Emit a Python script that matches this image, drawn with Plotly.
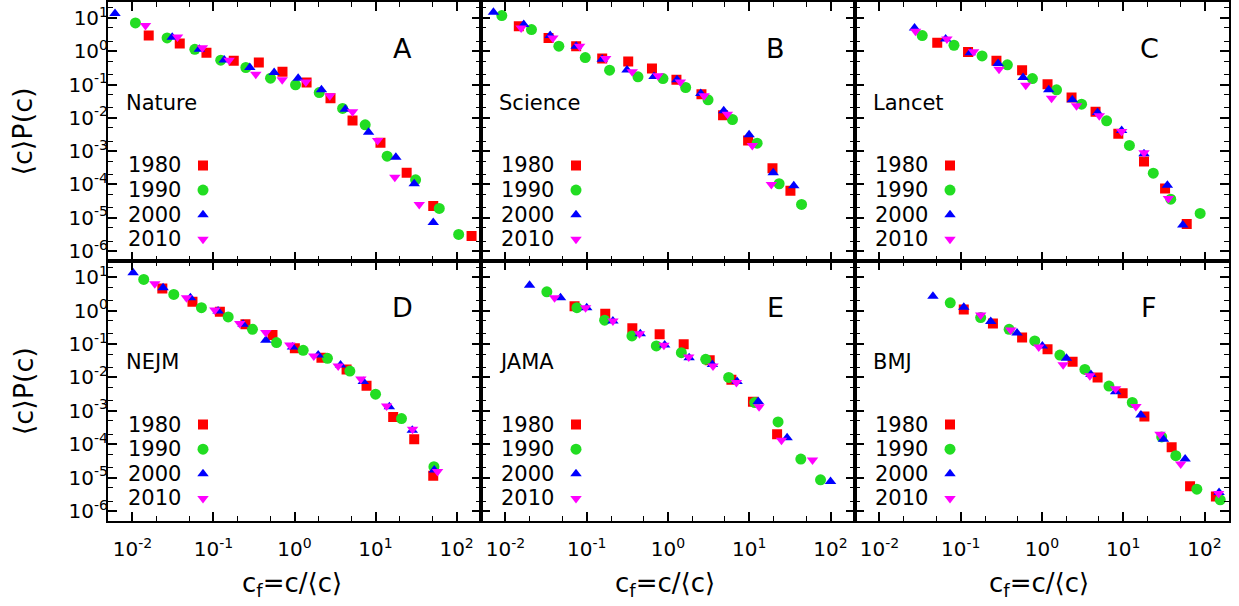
import plotly.graph_objects as go

W, H = 1239, 606
FONT = "DejaVu Sans, Verdana, sans-serif"

YEARS = ["1980", "1990", "2000", "2010"]
JOURNALS = ["Nature", "Science", "Lancet", "NEJM", "JAMA", "BMJ"]
LETTERS = ["A", "B", "C", "D", "E", "F"]

# ---------------- data: c_f and <c>P(c) per journal and year ----------------
NATURE_1980_CF = [0.0159, 0.0384, 0.082, 0.178, 0.363, 0.711, 1.41, 2.78, 5.2, 11.5, 24.2, 51.5, 153]
NATURE_1980_P = [2.95, 1.70, 0.902, 0.513, 0.457, 0.24, 0.115, 0.0389, 0.00832, 0.00178, 2.24e-4, 2.24e-5, 2.82e-6]
NATURE_1990_CF = [0.0109, 0.0268, 0.0589, 0.123, 0.251, 0.506, 1.03, 2.02, 3.92, 7.45, 13.9, 31.2, 61.1, 106]
NATURE_1990_P = [7.08, 2.51, 1.135, 0.537, 0.324, 0.155, 0.0977, 0.0575, 0.0191, 0.00617, 7.08e-4, 1.38e-4, 1.91e-5, 3.16e-6]
NATURE_2000_CF = [0.0061, 0.031, 0.067, 0.136, 0.281, 0.561, 1.11, 2.15, 4.23, 8.20, 17.8, 30.0, 51.5]
NATURE_2000_P = [13.5, 2.63, 1.135, 0.545, 0.324, 0.229, 0.155, 0.0692, 0.0182, 0.00372, 6.61e-4, 1.05e-4, 7.24e-6]
NATURE_2010_CF = [0.0145, 0.036, 0.0731, 0.156, 0.333, 0.705, 1.38, 2.73, 5.2, 10.6, 17.3, 34.6]
NATURE_2010_P = [5.89, 2.69, 1.26, 0.537, 0.204, 0.138, 0.120, 0.0457, 0.0151, 0.00209, 1.66e-4, 2.51e-5]

SCIENCE_1980_CF = [0.0146, 0.0339, 0.0741, 0.155, 0.324, 0.635, 1.27, 2.58, 4.76, 9.68, 19.3, 32.1]
SCIENCE_1980_P = [5.62, 2.51, 1.41, 0.603, 0.49, 0.302, 0.138, 0.0513, 0.012, 0.00209, 3.09e-4, 6.46e-5]
SCIENCE_1990_CF = [0.00902, 0.0209, 0.0454, 0.0959, 0.191, 0.427, 0.867, 1.65, 3.11, 6.21, 12.5, 23.3, 44.0]
SCIENCE_1990_P = [11.7, 4.47, 1.41, 0.646, 0.269, 0.17, 0.151, 0.0813, 0.0347, 0.00891, 0.00174, 1.05e-4, 2.51e-5]
SCIENCE_2000_CF = [0.00711, 0.0168, 0.0355, 0.0741, 0.155, 0.313, 0.673, 1.29, 2.53, 4.85, 9.95, 19.7, 35.3]
SCIENCE_2000_P = [14.8, 6.31, 2.95, 1.41, 0.575, 0.275, 0.174, 0.138, 0.0537, 0.0162, 0.00309, 2.24e-4, 9.12e-5]
SCIENCE_2010_CF = [0.0156, 0.0383, 0.0817, 0.171, 0.363, 0.753, 1.42, 2.78, 5.38, 10.9, 18.7]
SCIENCE_2010_P = [5.01, 2.51, 1.41, 0.603, 0.24, 0.182, 0.12, 0.0457, 0.0129, 0.00148, 1.0e-4]

LANCET_1980_CF = [0.0514, 0.123, 0.275, 0.569, 1.17, 2.31, 4.56, 8.69, 18.0, 32.7, 60.4]
LANCET_1980_P = [1.78, 0.944, 0.513, 0.269, 0.102, 0.0407, 0.0151, 0.00331, 4.9e-4, 7.59e-5, 6.46e-6]
LANCET_1990_CF = [0.0336, 0.0826, 0.183, 0.375, 0.762, 1.51, 3.07, 6.24, 11.9, 23.4, 38.4, 88.3]
LANCET_1990_P = [2.95, 1.51, 0.724, 0.389, 0.151, 0.0692, 0.0257, 0.00813, 0.00148, 2.19e-4, 3.63e-5, 1.35e-5]
LANCET_2000_CF = [0.027, 0.0652, 0.131, 0.288, 0.585, 1.21, 2.36, 4.83, 9.55, 18.0, 34.9, 54.0]
LANCET_2000_P = [5.01, 2.34, 0.902, 0.427, 0.162, 0.0692, 0.0347, 0.0145, 0.00417, 8.32e-4, 9.55e-5, 6.03e-6]
LANCET_2010_CF = [0.0278, 0.0676, 0.144, 0.296, 0.631, 1.31, 2.66, 5.07, 9.55, 18.0, 35.9]
LANCET_2010_P = [3.98, 2.34, 0.966, 0.288, 0.0955, 0.0389, 0.0229, 0.0115, 0.00389, 8.91e-4, 3.8e-5]

NEJM_1980_CF = [0.0234, 0.0551, 0.12, 0.248, 0.535, 1.01, 2.15, 4.39, 7.74, 16.5, 30.0, 51.5]
NEJM_1980_P = [4.57, 1.82, 0.923, 0.389, 0.186, 0.0741, 0.0389, 0.0174, 0.00562, 6.61e-4, 1.41e-4, 1.15e-5]
NEJM_1990_CF = [0.0138, 0.0324, 0.0711, 0.152, 0.303, 0.6, 1.28, 2.55, 4.82, 10.0, 20.9, 52.5]
NEJM_1990_P = [8.51, 3.02, 1.22, 0.646, 0.275, 0.11, 0.0646, 0.0372, 0.0155, 0.00316, 5.89e-4, 2.14e-5]
NEJM_2000_CF = [0.0102, 0.0239, 0.052, 0.114, 0.232, 0.443, 0.944, 1.96, 3.7, 7.05, 14.8, 28.4, 53.0]
NEJM_2000_P = [13.5, 4.79, 2.4, 0.966, 0.389, 0.129, 0.0813, 0.0468, 0.0234, 0.00759, 0.00132, 2.63e-4, 1.7e-5]
NEJM_2010_CF = [0.0189, 0.0465, 0.104, 0.211, 0.443, 0.875, 1.73, 3.46, 6.59, 13.7, 28.6, 58.2]
NEJM_2010_P = [6.31, 2.4, 1.04, 0.407, 0.219, 0.0933, 0.0437, 0.0219, 0.00891, 0.00141, 2.82e-4, 1.55e-5]

JAMA_1980_CF = [0.0708, 0.169, 0.364, 0.789, 1.56, 3.26, 6.03, 11.1, 22.0]
JAMA_1980_P = [1.35, 0.804, 0.295, 0.195, 0.0977, 0.0324, 0.00851, 0.00186, 2.0e-4]
JAMA_1990_CF = [0.0323, 0.0757, 0.166, 0.36, 0.718, 1.46, 2.91, 5.58, 11.7, 22.6, 43.1, 75.3]
JAMA_1990_P = [3.63, 1.22, 0.513, 0.174, 0.0871, 0.055, 0.0347, 0.01, 0.00178, 4.68e-4, 3.63e-5, 8.71e-6]
JAMA_2000_CF = [0.0198, 0.0476, 0.1, 0.21, 0.456, 0.91, 1.82, 3.52, 7.08, 12.9, 29.2, 100]
JAMA_2000_P = [5.75, 2.4, 1.22, 0.49, 0.204, 0.0933, 0.0389, 0.0245, 0.00759, 0.00191, 1.58e-4, 7.76e-6]
JAMA_2010_CF = [0.0402, 0.0968, 0.21, 0.446, 0.891, 1.8, 3.58, 6.95, 13.2, 24.9, 60.0]
JAMA_2010_P = [2.4, 1.22, 0.49, 0.204, 0.0912, 0.0407, 0.0219, 0.00708, 0.00132, 1.32e-4, 3.39e-5]

BMJ_1980_CF = [0.109, 0.249, 0.569, 1.17, 2.38, 4.83, 9.82, 18.2, 39.4, 66.4, 138]
BMJ_1980_P = [1.08, 0.407, 0.155, 0.0692, 0.0295, 0.01, 0.00339, 6.76e-4, 8.13e-5, 5.62e-6, 2.75e-6]
BMJ_1990_CF = [0.0743, 0.176, 0.394, 0.815, 1.66, 3.37, 6.67, 12.9, 29.7, 44.3, 80.4, 156]
BMJ_1990_P = [1.7, 0.617, 0.275, 0.123, 0.0468, 0.0174, 0.0055, 0.00178, 1.66e-4, 4.57e-5, 4.57e-6, 2.19e-6]
BMJ_2000_CF = [0.0455, 0.109, 0.234, 0.493, 1.01, 2.0, 4.0, 8.05, 16.5, 31.2, 57.7, 151]
BMJ_2000_P = [2.69, 1.26, 0.468, 0.214, 0.0871, 0.0372, 0.0123, 0.00372, 7.59e-4, 1.41e-4, 3.63e-5, 3.63e-6]
BMJ_2010_CF = [0.176, 0.412, 0.912, 1.82, 3.88, 8.05, 14.3, 28.3, 50.9, 149]
BMJ_2010_P = [0.741, 0.263, 0.0813, 0.024, 0.0112, 0.00457, 0.00135, 2.0e-4, 2.57e-5, 3.39e-6]

X_TICKS = [0.01, 0.1, 1, 10, 100]
X_TICKTEXT = ["10<sup>-2</sup>", "10<sup>-1</sup>", "10<sup>0</sup>", "10<sup>1</sup>", "10<sup>2</sup>"]
Y_TICKS = [1e-6, 1e-5, 1e-4, 1e-3, 1e-2, 1e-1, 1, 10]
Y_TICKTEXT = ["10<sup>-6</sup>", "10<sup>-5</sup>", "10<sup>-4</sup>", "10<sup>-3</sup>",
              "10<sup>-2</sup>", "10<sup>-1</sup>", "10<sup>0</sup>", "10<sup>1</sup>"]

SERIES = {
    "Nature": [(NATURE_1980_CF, NATURE_1980_P), (NATURE_1990_CF, NATURE_1990_P),
               (NATURE_2000_CF, NATURE_2000_P), (NATURE_2010_CF, NATURE_2010_P)],
    "Science": [(SCIENCE_1980_CF, SCIENCE_1980_P), (SCIENCE_1990_CF, SCIENCE_1990_P),
                (SCIENCE_2000_CF, SCIENCE_2000_P), (SCIENCE_2010_CF, SCIENCE_2010_P)],
    "Lancet": [(LANCET_1980_CF, LANCET_1980_P), (LANCET_1990_CF, LANCET_1990_P),
               (LANCET_2000_CF, LANCET_2000_P), (LANCET_2010_CF, LANCET_2010_P)],
    "NEJM": [(NEJM_1980_CF, NEJM_1980_P), (NEJM_1990_CF, NEJM_1990_P),
             (NEJM_2000_CF, NEJM_2000_P), (NEJM_2010_CF, NEJM_2010_P)],
    "JAMA": [(JAMA_1980_CF, JAMA_1980_P), (JAMA_1990_CF, JAMA_1990_P),
             (JAMA_2000_CF, JAMA_2000_P), (JAMA_2010_CF, JAMA_2010_P)],
    "BMJ": [(BMJ_1980_CF, BMJ_1980_P), (BMJ_1990_CF, BMJ_1990_P),
            (BMJ_2000_CF, BMJ_2000_P), (BMJ_2010_CF, BMJ_2010_P)],
}

# ---------------- styling ----------------
COLORS = ["#ff0000", "#22dd22", "#0000ff", "#ff00ff"]
SYMBOLS = ["square", "circle", "triangle-up", "triangle-down"]
SIZES = [10, 11, 10, 10]

PANEL_LEFT = [108, 481, 855]
PANEL_RIGHT = [481, 855, 1229]
ROW_TOP = [2, 262]
ROW_BOTTOM = [262, 523]

LEG_TEXT_DX = 19
LEG_MARK_DX = 95
LEG_Y0 = 164
LEG_STEP = 24.7
NAME_DX = 16
NAME_DY = 101
LETTER_DX = 294
LETTER_DY = 47
XTITLE_Y = 586

fig = go.Figure()
annotations = []
layout = {}

for k, journal in enumerate(JOURNALS):
    row, col = divmod(k, 3)
    n = k + 1
    sfx = "" if n == 1 else str(n)
    xl, xr = PANEL_LEFT[col], PANEL_RIGHT[col]
    yt, yb = ROW_TOP[row], ROW_BOTTOM[row]
    xdom = [xl / W, xr / W]
    ydom = [1 - yb / H, 1 - yt / H]

    for i, year in enumerate(YEARS):
        cf, p = SERIES[journal][i]
        fig.add_trace(go.Scatter(
            x=cf, y=p, mode="markers", name=year, showlegend=False,
            xaxis="x" + sfx, yaxis="y" + sfx,
            marker=dict(symbol=SYMBOLS[i], size=SIZES[i], color=COLORS[i], line=dict(width=0)),
        ))

    layout["xaxis" + sfx] = dict(
        type="log", domain=xdom, anchor="y" + sfx,
        range=[-2.30103, 2.30103],
        showline=True, linecolor="black", linewidth=2, mirror="allticks",
        ticks="inside", ticklen=9, tickwidth=1.5, tickcolor="black",
        showgrid=False, zeroline=False,
        tickmode="array", tickvals=X_TICKS, ticktext=X_TICKTEXT,
        showticklabels=(row == 1), ticklabelstandoff=9,
        tickfont=dict(family=FONT, size=20, color="black"),
        minor=dict(ticks="inside", ticklen=5, tickwidth=1.2, tickcolor="black",
                   dtick="D2", showgrid=False),
    )
    layout["yaxis" + sfx] = dict(
        type="log", domain=ydom, anchor="x" + sfx,
        range=[-6.30103, 1.47712],
        showline=True, linecolor="black", linewidth=2, mirror="allticks",
        ticks="inside", ticklen=9, tickwidth=1.5, tickcolor="black",
        showgrid=False, zeroline=False,
        tickmode="array", tickvals=Y_TICKS, ticktext=Y_TICKTEXT,
        showticklabels=(col == 0), ticklabelstandoff=-6,
        tickfont=dict(family=FONT, size=20, color="black"),
        minor=dict(ticks="inside", ticklen=5, tickwidth=1.2, tickcolor="black",
                   dtick="D2", showgrid=False),
    )

    # overlay axes (pixel units inside the panel) for the key symbols
    o = str(n + 6)
    layout["xaxis" + o] = dict(domain=xdom, anchor="y" + o, range=[0, xr - xl], visible=False,
                               fixedrange=True)
    layout["yaxis" + o] = dict(domain=ydom, anchor="x" + o, range=[yb - yt, 0], visible=False,
                               fixedrange=True)
    for i, year in enumerate(YEARS):
        fig.add_trace(go.Scatter(
            x=[LEG_MARK_DX], y=[LEG_Y0 + i * LEG_STEP], mode="markers", showlegend=False,
            xaxis="x" + o, yaxis="y" + o, hoverinfo="skip",
            marker=dict(symbol=SYMBOLS[i], size=SIZES[i], color=COLORS[i], line=dict(width=0)),
        ))
        annotations.append(dict(
            text=year, xref="paper", yref="paper",
            x=(xl + LEG_TEXT_DX) / W, y=1 - (yt + LEG_Y0 + i * LEG_STEP) / H,
            xanchor="left", yanchor="middle", showarrow=False, borderpad=0,
            font=dict(family=FONT, size=21, color="black"),
        ))

    annotations.append(dict(
        text=journal, xref="paper", yref="paper",
        x=(xl + NAME_DX) / W, y=1 - (yt + NAME_DY) / H,
        xanchor="left", yanchor="middle", showarrow=False,
        font=dict(family=FONT, size=21, color="black"),
    ))
    annotations.append(dict(
        text=LETTERS[k], xref="paper", yref="paper",
        x=(xl + LETTER_DX) / W, y=1 - (yt + LETTER_DY) / H,
        xanchor="center", yanchor="middle", showarrow=False,
        font=dict(family=FONT, size=27, color="black"),
    ))

for row in range(2):
    yc = (ROW_TOP[row] + ROW_BOTTOM[row]) / 2
    annotations.append(dict(
        text="⟨c⟩P(c)", xref="paper", yref="paper", x=23 / W, y=1 - yc / H,
        xanchor="center", yanchor="middle", textangle=-90, showarrow=False,
        font=dict(family=FONT, size=27, color="black"),
    ))
for col in range(3):
    xc = (PANEL_LEFT[col] + PANEL_RIGHT[col]) / 2 - 3
    annotations.append(dict(
        text="c<sub>f</sub>=c/⟨c⟩", xref="paper", yref="paper", x=xc / W, y=1 - XTITLE_Y / H,
        xanchor="center", yanchor="middle", showarrow=False,
        font=dict(family=FONT, size=26, color="black"),
    ))

fig.update_layout(
    width=W, height=H, margin=dict(l=0, r=0, t=0, b=0),
    paper_bgcolor="white", plot_bgcolor="rgba(0,0,0,0)",
    showlegend=False, annotations=annotations,
    **layout,
)

fig.write_html(
    "out.html",
    config={"displayModeBar": False},
    post_script="document.body.style.margin='0';document.body.style.overflow='hidden';",
)
